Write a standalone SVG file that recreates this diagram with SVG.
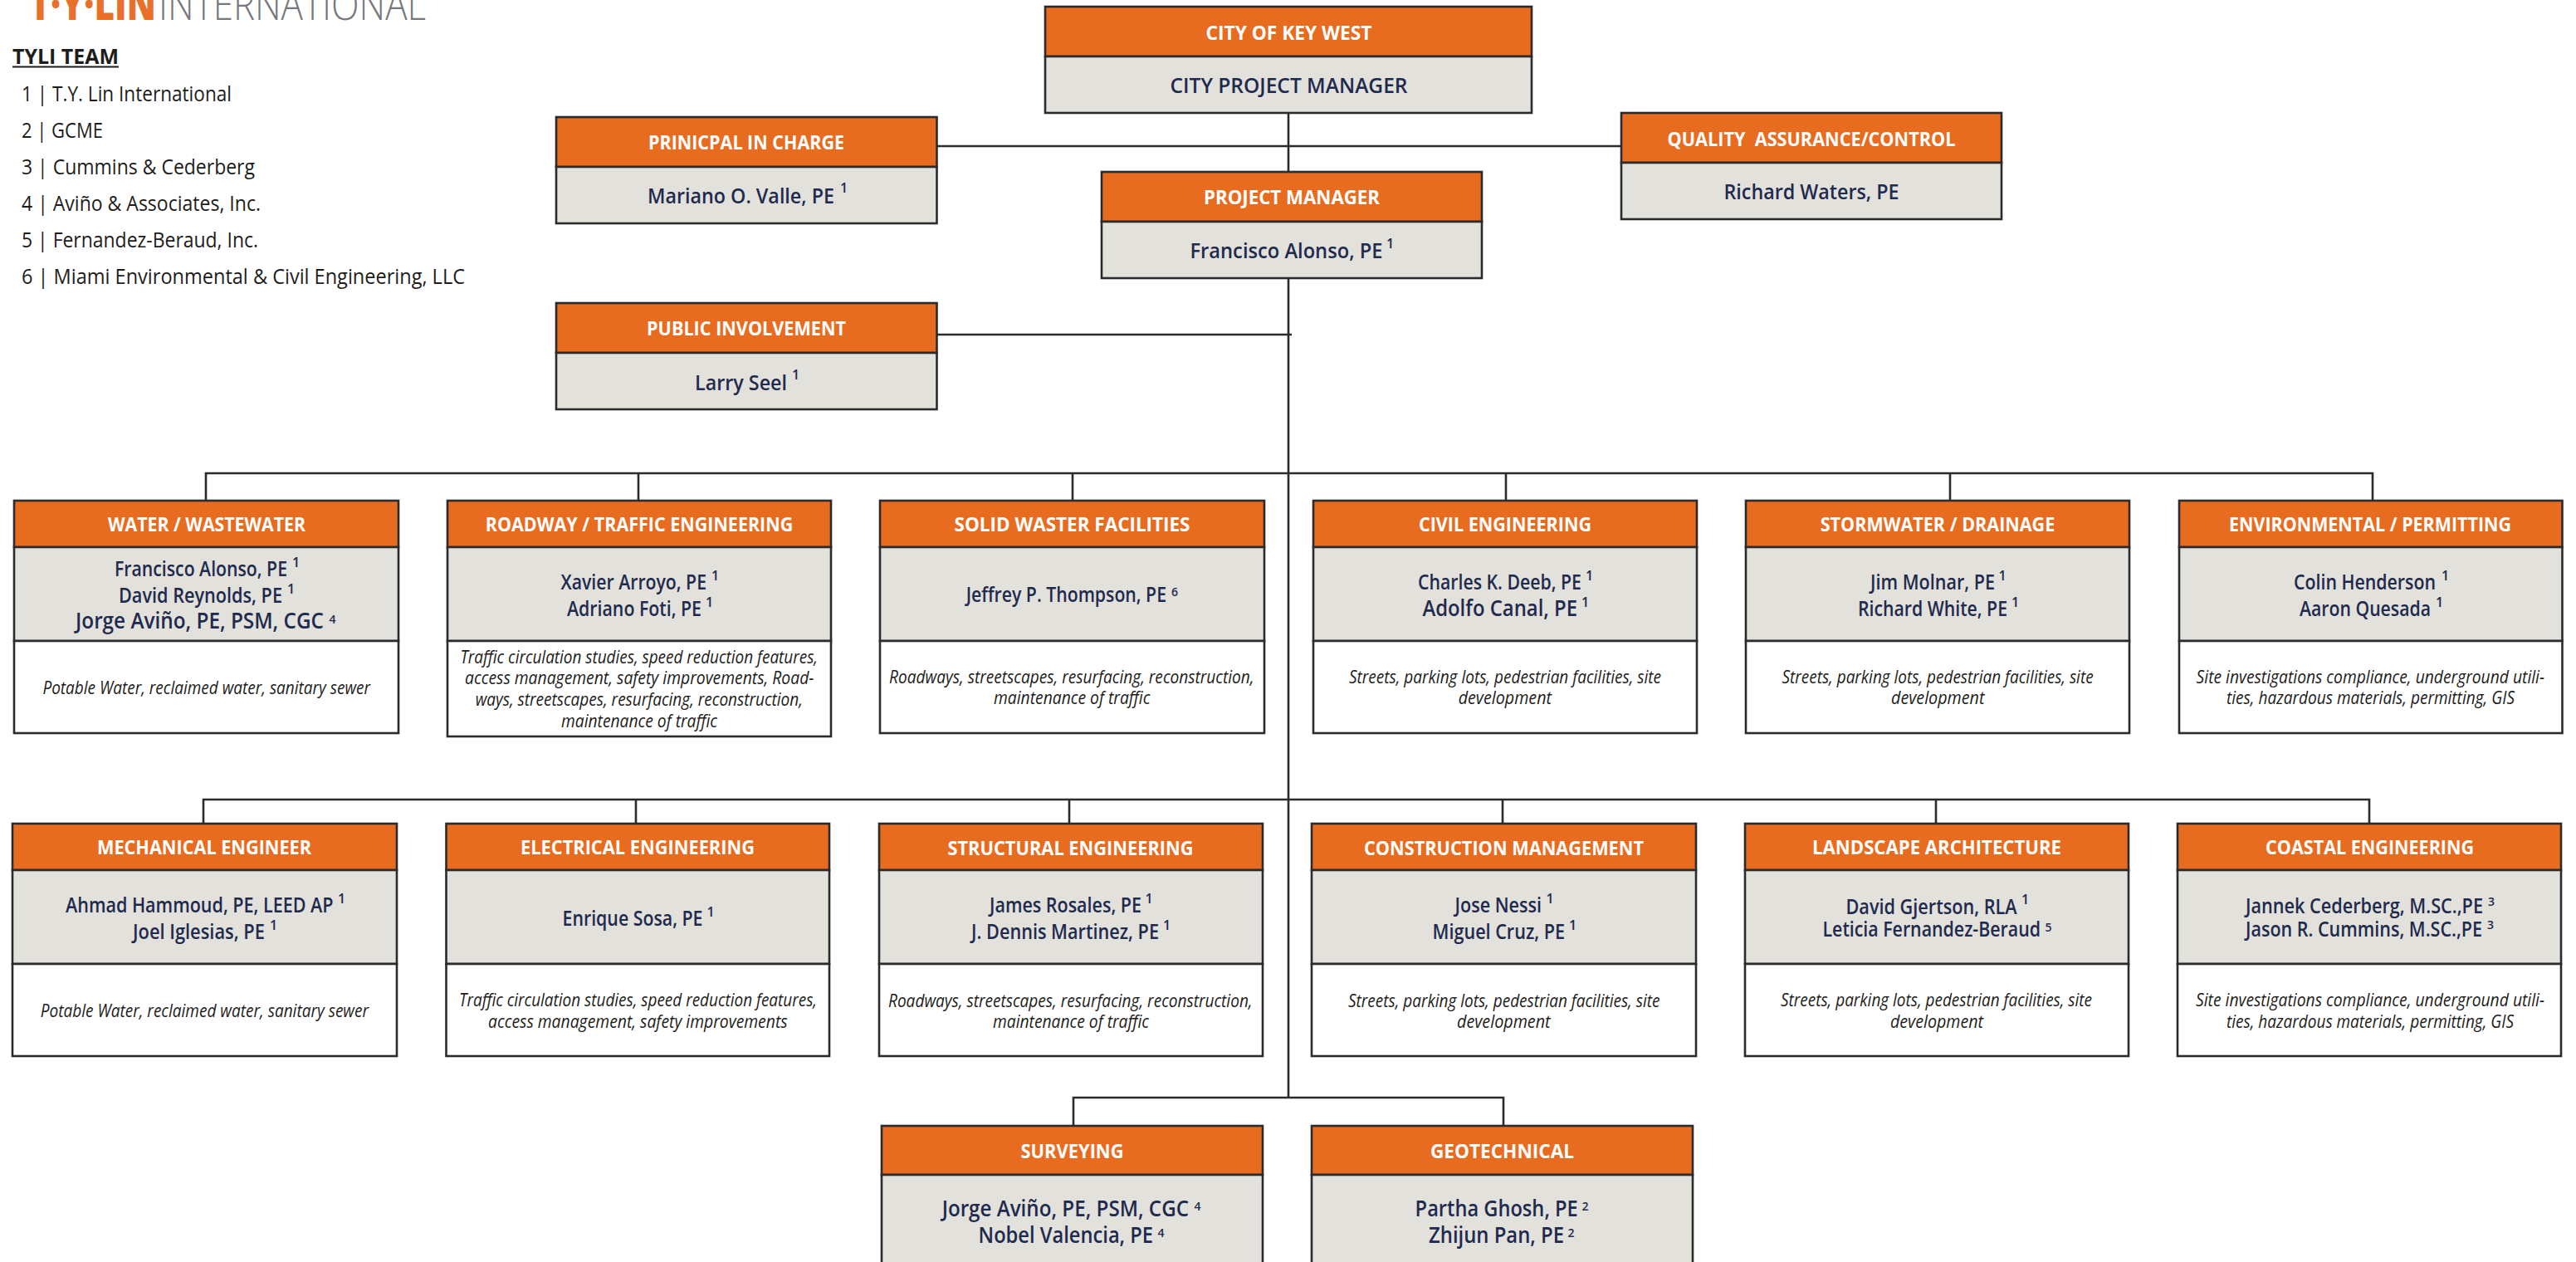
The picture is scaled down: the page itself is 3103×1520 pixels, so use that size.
<svg xmlns="http://www.w3.org/2000/svg" width="3103" height="1520" viewBox="0 0 3103 1520">
<style>
text{font-family:"Open Sans","Noto Sans","Liberation Sans",sans-serif}
.b{stroke:#2b2a2c;stroke-width:2.6}
.o{fill:#e86c1f}.g{fill:#e2e1dc}.w{fill:#fff}
.h{font-size:23.5px;font-weight:700;fill:#fff;text-anchor:middle}
.n{font-size:24.5px;font-weight:600;fill:#1f2a4d}
.l{font-size:26.5px}
.s{font-size:16px;font-weight:600}
.t{font-size:14px;font-weight:600}
.d{font-size:21px;font-style:italic;fill:#1d1d1b}
.k{font-size:26px;fill:#1d1d1b}
.c{stroke:#2b2a2c;stroke-width:2.6;fill:none}
</style>
<rect width="3103" height="1520" fill="#fff"/>
<g id="logo">
<text x="36" y="24" font-size="54" font-weight="800" fill="#e8702a" textLength="152" lengthAdjust="spacingAndGlyphs">T·Y·LIN</text>
<text x="191" y="24" font-size="52" font-weight="300" fill="#77787b" textLength="322" lengthAdjust="spacingAndGlyphs">INTERNATIONAL</text>
</g>
<g id="legend">
<text x="15" y="77" font-size="25.5" font-weight="700" fill="#1d1d1b" textLength="128" lengthAdjust="spacingAndGlyphs">TYLI TEAM</text>
<rect x="15" y="79.5" width="128" height="2" fill="#1d1d1b"/>
<text class="k" x="26" y="122" textLength="253" lengthAdjust="spacingAndGlyphs">1 | T.Y. Lin International</text>
<text class="k" x="26" y="166" textLength="98" lengthAdjust="spacingAndGlyphs">2 | GCME</text>
<text class="k" x="26" y="210" textLength="281" lengthAdjust="spacingAndGlyphs">3 | Cummins &amp; Cederberg</text>
<text class="k" x="26" y="254" textLength="288" lengthAdjust="spacingAndGlyphs">4 | Aviño &amp; Associates, Inc.</text>
<text class="k" x="26" y="298" textLength="285" lengthAdjust="spacingAndGlyphs">5 | Fernandez-Beraud, Inc.</text>
<text class="k" x="26" y="342" textLength="534" lengthAdjust="spacingAndGlyphs">6 | Miami Environmental &amp; Civil Engineering, LLC</text>
</g>
<g id="connectors">
<path class="c" d="M1552 136V1322M1129 176H1953M1129 403H1556"/>
<path class="c" d="M248 603V570H2858V603M769 570V603M1292 570V603M1814 570V603M2349 570V603"/>
<path class="c" d="M245 992V963H2854V992M766 963V992M1288 963V992M1810 963V992M2332 963V992"/>
<path class="c" d="M1293 1356V1322H1811V1356"/>
</g>
<g id="city">
<rect class="b o" x="1259" y="8" width="586" height="60"/><rect class="b g" x="1259" y="68" width="586" height="68"/>
<text class="h" x="1552.5" y="47.5" textLength="200" lengthAdjust="spacingAndGlyphs">CITY OF KEY WEST</text>
<text class="n" x="1409.5" y="112" textLength="286" lengthAdjust="spacingAndGlyphs">CITY PROJECT MANAGER</text>
</g>
<g id="principal">
<rect class="b o" x="670" y="141" width="458.500" height="60"/><rect class="b g" x="670" y="201" width="458.500" height="68"/>
<text class="h" x="899" y="180" textLength="236" lengthAdjust="spacingAndGlyphs">PRINICPAL IN CHARGE</text>
<text class="n" x="780" y="245"><tspan textLength="225" lengthAdjust="spacingAndGlyphs">Mariano O. Valle, PE</tspan><tspan class="s" x="1012" y="232">1</tspan></text>
</g>
<g id="quality">
<rect class="b o" x="1953" y="136" width="458" height="60"/><rect class="b g" x="1953" y="196" width="458" height="68"/>
<text class="h" x="2182" y="175.5" textLength="347" lengthAdjust="spacingAndGlyphs" xml:space="preserve">QUALITY  ASSURANCE/CONTROL</text>
<text class="n" x="2076.5" y="239.5" textLength="211" lengthAdjust="spacingAndGlyphs">Richard Waters, PE</text>
</g>
<g id="pm">
<rect class="b o" x="1327" y="207" width="458" height="60"/><rect class="b g" x="1327" y="267" width="458" height="68"/>
<text class="h" x="1556" y="246" textLength="212" lengthAdjust="spacingAndGlyphs">PROJECT MANAGER</text>
<text class="n" x="1433.5" y="311"><tspan textLength="232" lengthAdjust="spacingAndGlyphs">Francisco Alonso, PE</tspan><tspan class="s" x="1670" y="299">1</tspan></text>
</g>
<g id="public">
<rect class="b o" x="670" y="365" width="458.500" height="60"/><rect class="b g" x="670" y="425" width="458.500" height="68"/>
<text class="h" x="899" y="404" textLength="240" lengthAdjust="spacingAndGlyphs">PUBLIC INVOLVEMENT</text>
<text class="n" x="837" y="470"><tspan textLength="111" lengthAdjust="spacingAndGlyphs">Larry Seel</tspan><tspan class="s" x="954" y="457">1</tspan></text>
</g>

<g id="water">
<rect class="b o" x="17" y="603" width="463" height="56"/><rect class="b g" x="17" y="659" width="463" height="113"/><rect class="b w" x="17" y="772" width="463" height="111"/>
<text class="h" x="249" y="640" textLength="238" lengthAdjust="spacingAndGlyphs">WATER / WASTEWATER</text>
<text class="n" x="138" y="694"><tspan textLength="208" lengthAdjust="spacingAndGlyphs">Francisco Alonso, PE</tspan><tspan class="s" x="352" y="682.5">1</tspan></text>
<text class="n" x="143" y="725.7"><tspan textLength="197" lengthAdjust="spacingAndGlyphs">David Reynolds, PE</tspan><tspan class="s" x="346" y="714.5">1</tspan></text>
<text class="n l" x="91" y="757"><tspan textLength="299" lengthAdjust="spacingAndGlyphs">Jorge Aviño, PE, PSM, CGC</tspan><tspan class="t" x="396.5" y="750.5">4</tspan></text>
<text class="d" x="51.4" y="836" textLength="394.6" lengthAdjust="spacingAndGlyphs">Potable Water, reclaimed water, sanitary sewer</text>
</g>
<g id="roadway">
<rect class="b o" x="539" y="603" width="462" height="56"/><rect class="b g" x="539" y="659" width="462" height="113"/><rect class="b w" x="539" y="772" width="462" height="115"/>
<text class="h" x="770" y="640" textLength="370.5" lengthAdjust="spacingAndGlyphs">ROADWAY / TRAFFIC ENGINEERING</text>
<text class="n" x="675.5" y="710"><tspan textLength="175.5" lengthAdjust="spacingAndGlyphs">Xavier Arroyo, PE</tspan><tspan class="s" x="857" y="698.5">1</tspan></text>
<text class="n" x="683" y="742"><tspan textLength="162" lengthAdjust="spacingAndGlyphs">Adriano Foti, PE</tspan><tspan class="s" x="850" y="730.5">1</tspan></text>
<text class="d" x="554.4" y="798.7" textLength="430.6" lengthAdjust="spacingAndGlyphs">Traffic circulation studies, speed reduction features,</text>
<text class="d" x="560" y="824" textLength="420.4" lengthAdjust="spacingAndGlyphs">access management, safety improvements, Road-</text>
<text class="d" x="572.7" y="850" textLength="394.3" lengthAdjust="spacingAndGlyphs">ways, streetscapes, resurfacing, reconstruction,</text>
<text class="d" x="676" y="876" textLength="188" lengthAdjust="spacingAndGlyphs">maintenance of traffic</text>
</g>
<g id="solid">
<rect class="b o" x="1060" y="603" width="463" height="56"/><rect class="b g" x="1060" y="659" width="463" height="113"/><rect class="b w" x="1060" y="772" width="463" height="111"/>
<text class="h" x="1291.5" y="640" textLength="284" lengthAdjust="spacingAndGlyphs">SOLID WASTER FACILITIES</text>
<text class="n" x="1163.7" y="725"><tspan textLength="241.3" lengthAdjust="spacingAndGlyphs">Jeffrey P. Thompson, PE</tspan><tspan class="t" x="1411" y="718">6</tspan></text>
<text class="d" x="1071" y="823.3" textLength="439.6" lengthAdjust="spacingAndGlyphs">Roadways, streetscapes, resurfacing, reconstruction,</text>
<text class="d" x="1197" y="848.3" textLength="188.5" lengthAdjust="spacingAndGlyphs">maintenance of traffic</text>
</g>
<g id="civil">
<rect class="b o" x="1582" y="603" width="462" height="56"/><rect class="b g" x="1582" y="659" width="462" height="113"/><rect class="b w" x="1582" y="772" width="462" height="111"/>
<text class="h" x="1813" y="640" textLength="208" lengthAdjust="spacingAndGlyphs">CIVIL ENGINEERING</text>
<text class="n" x="1708" y="710"><tspan textLength="197" lengthAdjust="spacingAndGlyphs">Charles K. Deeb, PE</tspan><tspan class="s" x="1910" y="698.5">1</tspan></text>
<text class="n l" x="1713.4" y="741.7"><tspan textLength="186.6" lengthAdjust="spacingAndGlyphs">Adolfo Canal, PE</tspan><tspan class="s" x="1905" y="730.5">1</tspan></text>
<text class="d" x="1625" y="823.3" textLength="376" lengthAdjust="spacingAndGlyphs">Streets, parking lots, pedestrian facilities, site</text>
<text class="d" x="1756.7" y="848.3" textLength="112.3" lengthAdjust="spacingAndGlyphs">development</text>
</g>
<g id="stormwater">
<rect class="b o" x="2103" y="603" width="462" height="56"/><rect class="b g" x="2103" y="659" width="462" height="113"/><rect class="b w" x="2103" y="772" width="462" height="111"/>
<text class="h" x="2334" y="640" textLength="282.5" lengthAdjust="spacingAndGlyphs">STORMWATER / DRAINAGE</text>
<text class="n" x="2253" y="710"><tspan textLength="150" lengthAdjust="spacingAndGlyphs">Jim Molnar, PE</tspan><tspan class="s" x="2407.5" y="698.5">1</tspan></text>
<text class="n" x="2238" y="742"><tspan textLength="180" lengthAdjust="spacingAndGlyphs">Richard White, PE</tspan><tspan class="s" x="2423" y="730.5">1</tspan></text>
<text class="d" x="2146.5" y="823.3" textLength="375.1" lengthAdjust="spacingAndGlyphs">Streets, parking lots, pedestrian facilities, site</text>
<text class="d" x="2278" y="848.3" textLength="112.5" lengthAdjust="spacingAndGlyphs">development</text>
</g>
<g id="environmental">
<rect class="b o" x="2625" y="603" width="461.500" height="56"/><rect class="b g" x="2625" y="659" width="461.500" height="113"/><rect class="b w" x="2625" y="772" width="461.500" height="111"/>
<text class="h" x="2855" y="640" textLength="340" lengthAdjust="spacingAndGlyphs">ENVIRONMENTAL / PERMITTING</text>
<text class="n" x="2763" y="710"><tspan textLength="171" lengthAdjust="spacingAndGlyphs">Colin Henderson</tspan><tspan class="s" x="2941" y="698.5">1</tspan></text>
<text class="n" x="2770" y="742"><tspan textLength="158" lengthAdjust="spacingAndGlyphs">Aaron Quesada</tspan><tspan class="s" x="2934" y="730.5">1</tspan></text>
<text class="d" x="2645.6" y="823.3" textLength="419.4" lengthAdjust="spacingAndGlyphs">Site investigations compliance, underground utili-</text>
<text class="d" x="2682" y="848.3" textLength="347" lengthAdjust="spacingAndGlyphs">ties, hazardous materials, permitting, GIS</text>
</g>

<g id="mechanical">
<rect class="b o" x="15" y="992" width="463" height="56"/><rect class="b g" x="15" y="1048" width="463" height="113"/><rect class="b w" x="15" y="1161" width="463" height="111"/>
<text class="h" x="246" y="1029" textLength="258" lengthAdjust="spacingAndGlyphs">MECHANICAL ENGINEER</text>
<text class="n" x="79" y="1099"><tspan textLength="322.6" lengthAdjust="spacingAndGlyphs">Ahmad Hammoud, PE, LEED AP</tspan><tspan class="s" x="407" y="1087.5">1</tspan></text>
<text class="n" x="160" y="1131"><tspan textLength="159" lengthAdjust="spacingAndGlyphs">Joel Iglesias, PE</tspan><tspan class="s" x="325" y="1119.5">1</tspan></text>
<text class="d" x="48.7" y="1225" textLength="395.3" lengthAdjust="spacingAndGlyphs">Potable Water, reclaimed water, sanitary sewer</text>
</g>
<g id="electrical">
<rect class="b o" x="537.500" y="992" width="461.500" height="56"/><rect class="b g" x="537.500" y="1048" width="461.500" height="113"/><rect class="b w" x="537.500" y="1161" width="461.500" height="111"/>
<text class="h" x="768" y="1029" textLength="282" lengthAdjust="spacingAndGlyphs">ELECTRICAL ENGINEERING</text>
<text class="n" x="677.5" y="1115"><tspan textLength="169" lengthAdjust="spacingAndGlyphs">Enrique Sosa, PE</tspan><tspan class="s" x="851.5" y="1104">1</tspan></text>
<text class="d" x="553" y="1211.7" textLength="431" lengthAdjust="spacingAndGlyphs">Traffic circulation studies, speed reduction features,</text>
<text class="d" x="588" y="1237.7" textLength="360.6" lengthAdjust="spacingAndGlyphs">access management, safety improvements</text>
</g>
<g id="structural">
<rect class="b o" x="1059" y="992" width="462" height="56"/><rect class="b g" x="1059" y="1048" width="462" height="113"/><rect class="b w" x="1059" y="1161" width="462" height="111"/>
<text class="h" x="1289.5" y="1030" textLength="296" lengthAdjust="spacingAndGlyphs">STRUCTURAL ENGINEERING</text>
<text class="n" x="1192" y="1099"><tspan textLength="183" lengthAdjust="spacingAndGlyphs">James Rosales, PE</tspan><tspan class="s" x="1379.500" y="1087.5">1</tspan></text>
<text class="n" x="1170" y="1131"><tspan textLength="226" lengthAdjust="spacingAndGlyphs">J. Dennis Martinez, PE</tspan><tspan class="s" x="1401" y="1119.5">1</tspan></text>
<text class="d" x="1070" y="1212.5" textLength="438.6" lengthAdjust="spacingAndGlyphs">Roadways, streetscapes, resurfacing, reconstruction,</text>
<text class="d" x="1196" y="1238" textLength="188" lengthAdjust="spacingAndGlyphs">maintenance of traffic</text>
</g>
<g id="construction">
<rect class="b o" x="1580" y="992" width="463" height="56"/><rect class="b g" x="1580" y="1048" width="463" height="113"/><rect class="b w" x="1580" y="1161" width="463" height="111"/>
<text class="h" x="1811.5" y="1030" textLength="337" lengthAdjust="spacingAndGlyphs">CONSTRUCTION MANAGEMENT</text>
<text class="n" x="1752.6" y="1099"><tspan textLength="104.4" lengthAdjust="spacingAndGlyphs">Jose Nessi</tspan><tspan class="s" x="1862.5" y="1087.5">1</tspan></text>
<text class="n" x="1725.6" y="1131"><tspan textLength="159.4" lengthAdjust="spacingAndGlyphs">Miguel Cruz, PE</tspan><tspan class="s" x="1890" y="1119.5">1</tspan></text>
<text class="d" x="1624" y="1212.5" textLength="375.4" lengthAdjust="spacingAndGlyphs">Streets, parking lots, pedestrian facilities, site</text>
<text class="d" x="1755" y="1238" textLength="112.6" lengthAdjust="spacingAndGlyphs">development</text>
</g>
<g id="landscape">
<rect class="b o" x="2102" y="992" width="462" height="56"/><rect class="b g" x="2102" y="1048" width="462" height="113"/><rect class="b w" x="2102" y="1161" width="462" height="111"/>
<text class="h" x="2333" y="1029" textLength="300" lengthAdjust="spacingAndGlyphs">LANDSCAPE ARCHITECTURE</text>
<text class="n" x="2223.5" y="1100.7"><tspan textLength="206.1" lengthAdjust="spacingAndGlyphs">David Gjertson, RLA</tspan><tspan class="s" x="2435" y="1089">1</tspan></text>
<text class="n" x="2195.5" y="1128"><tspan textLength="262.5" lengthAdjust="spacingAndGlyphs">Leticia Fernandez-Beraud</tspan><tspan class="t" x="2463.5" y="1122">5</tspan></text>
<text class="d" x="2145" y="1212" textLength="375" lengthAdjust="spacingAndGlyphs">Streets, parking lots, pedestrian facilities, site</text>
<text class="d" x="2277" y="1238" textLength="112" lengthAdjust="spacingAndGlyphs">development</text>
</g>
<g id="coastal">
<rect class="b o" x="2623" y="992" width="462" height="56"/><rect class="b g" x="2623" y="1048" width="462" height="113"/><rect class="b w" x="2623" y="1161" width="462" height="111"/>
<text class="h" x="2854.6" y="1029" textLength="251" lengthAdjust="spacingAndGlyphs">COASTAL ENGINEERING</text>
<text class="n" x="2705" y="1099.7"><tspan textLength="286" lengthAdjust="spacingAndGlyphs">Jannek Cederberg, M.SC.,PE</tspan><tspan class="t" x="2997" y="1091">3</tspan></text>
<text class="n" x="2705" y="1127.7"><tspan textLength="285" lengthAdjust="spacingAndGlyphs">Jason R. Cummins, M.SC.,PE</tspan><tspan class="t" x="2996" y="1119">3</tspan></text>
<text class="d" x="2645" y="1212" textLength="420" lengthAdjust="spacingAndGlyphs">Site investigations compliance, underground utili-</text>
<text class="d" x="2682" y="1238" textLength="346" lengthAdjust="spacingAndGlyphs">ties, hazardous materials, permitting, GIS</text>
</g>

<g id="surveying">
<rect class="b o" x="1062" y="1356" width="459" height="59"/><rect class="b g" x="1062" y="1415" width="459" height="110"/>
<text class="h" x="1291.5" y="1395" textLength="124" lengthAdjust="spacingAndGlyphs">SURVEYING</text>
<text class="n l" x="1134.7" y="1465"><tspan textLength="297.3" lengthAdjust="spacingAndGlyphs">Jorge Aviño, PE, PSM, CGC</tspan><tspan class="t" x="1438.5" y="1458">4</tspan></text>
<text class="n l" x="1178.6" y="1497"><tspan textLength="210.4" lengthAdjust="spacingAndGlyphs">Nobel Valencia, PE</tspan><tspan class="t" x="1394.5" y="1490">4</tspan></text>
</g>
<g id="geotechnical">
<rect class="b o" x="1580" y="1356" width="459" height="59"/><rect class="b g" x="1580" y="1415" width="459" height="110"/>
<text class="h" x="1809.5" y="1395" textLength="173" lengthAdjust="spacingAndGlyphs">GEOTECHNICAL</text>
<text class="n l" x="1704.6" y="1465"><tspan textLength="196.1" lengthAdjust="spacingAndGlyphs">Partha Ghosh, PE</tspan><tspan class="t" x="1905.5" y="1458">2</tspan></text>
<text class="n l" x="1721" y="1497"><tspan textLength="163" lengthAdjust="spacingAndGlyphs">Zhijun Pan, PE</tspan><tspan class="t" x="1888.5" y="1490">2</tspan></text>
</g>
</svg>
